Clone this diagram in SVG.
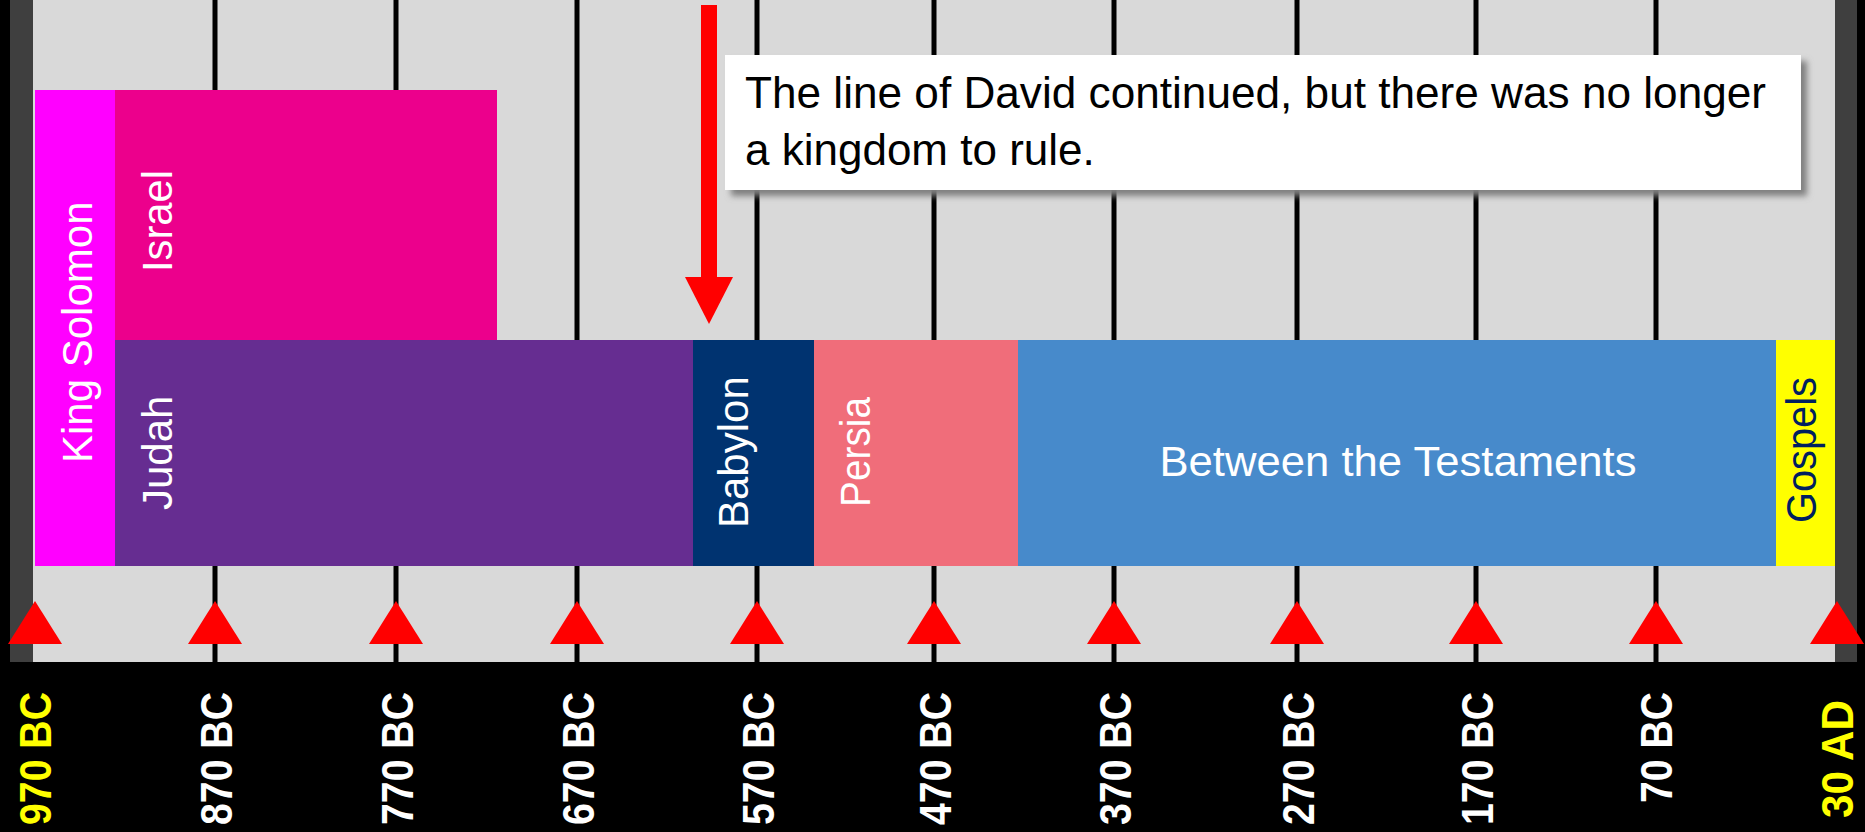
<svg xmlns="http://www.w3.org/2000/svg" width="1865" height="832" viewBox="0 0 1865 832">
<style>
.tick{stroke:#000;stroke-width:5}
.tri{fill:#FF0000}
.lbl{font-family:"Liberation Sans",Arial,sans-serif;font-size:42px;fill:#FFFFFF}
.ax{font-family:"Liberation Sans",Arial,sans-serif;font-size:44px;font-weight:bold;fill:#FFFFFF;text-anchor:end}
.axy{fill:#FFFF00}
.note{font-family:"Liberation Sans",Arial,sans-serif;font-size:44px;fill:#000000}
</style>
<defs>
<filter id="sh" x="-5%" y="-20%" width="110%" height="140%">
<feGaussianBlur stdDeviation="3"/>
</filter>
<polygon id="t" points="-27,644 27,644 0,601"/>
</defs>
<rect x="0" y="0" width="1865" height="832" fill="#000"/>
<rect x="33" y="0" width="1802" height="662" fill="#D9D9D9"/>
<rect x="10" y="0" width="23" height="662" fill="#3F3F3F"/>
<rect x="1835" y="0" width="22" height="662" fill="#3F3F3F"/>
<g id="ticks">
<line class="tick" x1="215" y1="0" x2="215" y2="662"/>
<line class="tick" x1="396" y1="0" x2="396" y2="662"/>
<line class="tick" x1="577" y1="0" x2="577" y2="662"/>
<line class="tick" x1="757" y1="0" x2="757" y2="662"/>
<line class="tick" x1="934" y1="0" x2="934" y2="662"/>
<line class="tick" x1="1114" y1="0" x2="1114" y2="662"/>
<line class="tick" x1="1297" y1="0" x2="1297" y2="662"/>
<line class="tick" x1="1476" y1="0" x2="1476" y2="662"/>
<line class="tick" x1="1656" y1="0" x2="1656" y2="662"/>
</g>
<g id="king-solomon">
<rect x="35" y="90" width="80" height="476" fill="#FF00FF"/>
<text class="lbl" transform="translate(92,463) rotate(-90)">King Solomon</text>
</g>
<g id="israel">
<rect x="115" y="90" width="382" height="250" fill="#EC008C"/>
<text class="lbl" transform="translate(172,272) rotate(-90)" textLength="102" lengthAdjust="spacingAndGlyphs">Israel</text>
</g>
<g id="judah">
<rect x="115" y="340" width="578" height="226" fill="#662D91"/>
<text class="lbl" transform="translate(172,510) rotate(-90)">Judah</text>
</g>
<g id="babylon">
<rect x="693" y="340" width="121" height="226" fill="#003370"/>
<text class="lbl" transform="translate(748,528) rotate(-90)">Babylon</text>
</g>
<g id="persia">
<rect x="814" y="340" width="204" height="226" fill="#F06D7A"/>
<text class="lbl" transform="translate(870,507) rotate(-90)" textLength="110" lengthAdjust="spacingAndGlyphs">Persia</text>
</g>
<g id="between">
<rect x="1018" y="340" width="758" height="226" fill="#478ACB"/>
<text class="lbl" x="1398" y="476" text-anchor="middle" style="font-size:43px" textLength="477" lengthAdjust="spacingAndGlyphs">Between the Testaments</text>
</g>
<g id="gospels">
<rect x="1776" y="340" width="59" height="226" fill="#FFFF00"/>
<text class="lbl" transform="translate(1816,523) rotate(-90)" style="fill:#002060" textLength="146" lengthAdjust="spacingAndGlyphs">Gospels</text>
</g>
<g id="markers">
<use href="#t" class="tri" x="35"/>
<use href="#t" class="tri" x="215"/>
<use href="#t" class="tri" x="396"/>
<use href="#t" class="tri" x="577"/>
<use href="#t" class="tri" x="757"/>
<use href="#t" class="tri" x="934"/>
<use href="#t" class="tri" x="1114"/>
<use href="#t" class="tri" x="1297"/>
<use href="#t" class="tri" x="1476"/>
<use href="#t" class="tri" x="1656"/>
<use href="#t" class="tri" x="1837"/>
</g>
<g id="axis-labels">
<text class="ax axy" transform="translate(51,692) rotate(-90)" textLength="133" lengthAdjust="spacingAndGlyphs">970 BC</text>
<text class="ax" transform="translate(232,692) rotate(-90)" textLength="133" lengthAdjust="spacingAndGlyphs">870 BC</text>
<text class="ax" transform="translate(413,692) rotate(-90)" textLength="133" lengthAdjust="spacingAndGlyphs">770 BC</text>
<text class="ax" transform="translate(594,692) rotate(-90)" textLength="133" lengthAdjust="spacingAndGlyphs">670 BC</text>
<text class="ax" transform="translate(774,692) rotate(-90)" textLength="133" lengthAdjust="spacingAndGlyphs">570 BC</text>
<text class="ax" transform="translate(951,692) rotate(-90)" textLength="133" lengthAdjust="spacingAndGlyphs">470 BC</text>
<text class="ax" transform="translate(1131,692) rotate(-90)" textLength="133" lengthAdjust="spacingAndGlyphs">370 BC</text>
<text class="ax" transform="translate(1314,692) rotate(-90)" textLength="133" lengthAdjust="spacingAndGlyphs">270 BC</text>
<text class="ax" transform="translate(1493,692) rotate(-90)" textLength="133" lengthAdjust="spacingAndGlyphs">170 BC</text>
<text class="ax" transform="translate(1672,692) rotate(-90)" textLength="111" lengthAdjust="spacingAndGlyphs">70 BC</text>
<text class="ax axy" transform="translate(1853,700) rotate(-90)" textLength="118" lengthAdjust="spacingAndGlyphs">30 AD</text>
</g>
<g id="note">
<rect x="731" y="61" width="1076" height="135" fill="#7F7F7F" filter="url(#sh)"/>
<rect x="725" y="55" width="1076" height="135" fill="#FFFFFF"/>
<text class="note" x="745" y="108" textLength="1021" lengthAdjust="spacingAndGlyphs">The line of David continued, but there was no longer</text>
<text class="note" x="745" y="165">a kingdom to rule.</text>
</g>
<g id="connectors">
<rect x="701" y="5" width="16" height="273" fill="#FF0000"/>
<polygon points="685,277 733,277 709,324" fill="#FF0000"/>
</g>
</svg>
